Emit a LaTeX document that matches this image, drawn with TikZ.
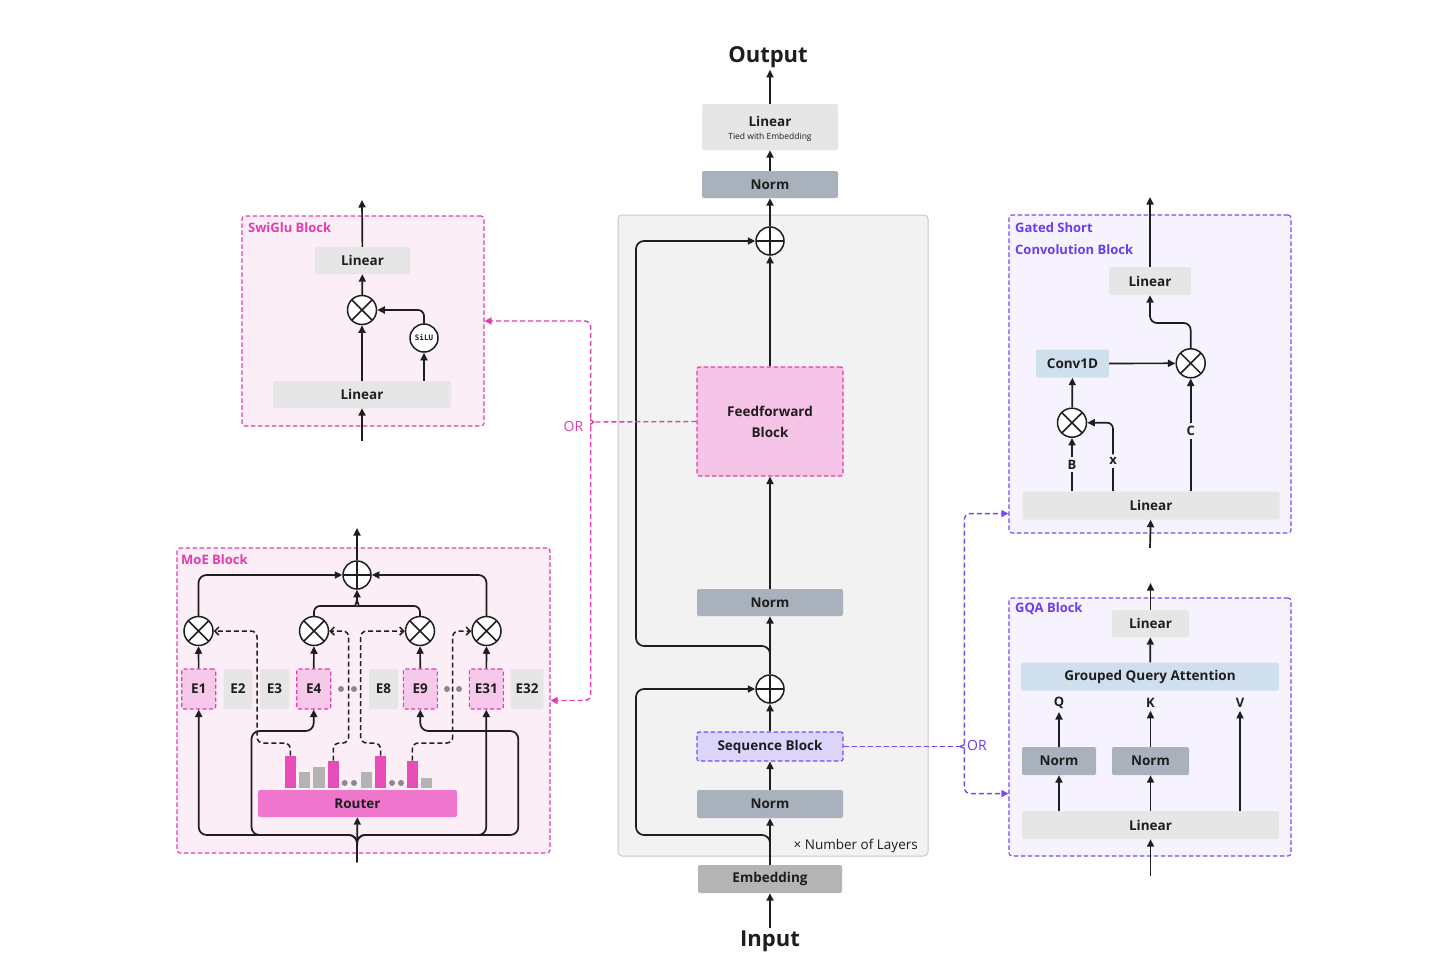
\documentclass[tikz,border=0pt]{standalone}
\usepackage{fontspec}
\setmainfont{Open Sans}
\newfontfamily\silufont{DejaVu Sans Mono}
\usetikzlibrary{arrows.meta,calc}
\definecolor{txt}{HTML}{1E1E1E}
\definecolor{magc}{HTML}{E33CAD}
\definecolor{pinkbg}{HTML}{FBEEF7}
\definecolor{ffc}{HTML}{F5C4E7}
\definecolor{expc}{HTML}{F6C8EA}
\definecolor{routc}{HTML}{EE77CD}
\definecolor{barp}{HTML}{E64DB6}
\definecolor{barg}{HTML}{B3B3B3}
\definecolor{purc}{HTML}{7A48F2}
\definecolor{purtxt}{HTML}{6A3BEF}
\definecolor{lavbg}{HTML}{F6F3FE}
\definecolor{seqc}{HTML}{DDD4FC}
\definecolor{lgray}{HTML}{E6E6E6}
\definecolor{normc}{HTML}{A9B2BC}
\definecolor{embc}{HTML}{B4B4B4}
\definecolor{contf}{HTML}{F2F2F2}
\definecolor{contd}{HTML}{C8C8C8}
\definecolor{lblue}{HTML}{CFDFED}
\definecolor{dotc}{HTML}{8A8A8A}
\begin{document}
\begin{tikzpicture}[x=1pt,y=-1pt,
  sz/.style 2 args={minimum width=#1pt, minimum height=#2pt},
  bx/.style={rectangle, rounded corners=2pt, inner sep=0pt, text=txt, font=\fontsize{13.5}{15}\selectfont\bfseries},
  lg/.style={bx, fill=lgray},
  ng/.style={bx, fill=normc},
  emb/.style={bx, fill=embc},
  lb/.style={bx, fill=lblue},
  grayexp/.style={bx, fill=lgray},
  pinkexp/.style={bx, fill=expc, draw=magc, line width=1.1pt, dash pattern=on 4pt off 2.5pt},
  ffbox/.style={bx, fill=ffc, draw=magc, line width=1.1pt, dash pattern=on 4.5pt off 2.5pt},
  seqbox/.style={bx, fill=seqc, draw=purc, line width=1.1pt, dash pattern=on 4.5pt off 2.5pt},
  pinkblock/.style={rectangle, rounded corners=3pt, fill=pinkbg, draw=magc, line width=1.1pt, dash pattern=on 4.5pt off 2.5pt},
  lavblock/.style={rectangle, rounded corners=3pt, fill=lavbg, draw=purc, line width=1.1pt, dash pattern=on 4.5pt off 2.5pt},
  router/.style={bx, fill=routc},
  magl/.style={text=magc, font=\fontsize{13}{15}\selectfont\bfseries, inner sep=0pt},
  purl/.style={text=purtxt, font=\fontsize{13}{22}\selectfont\bfseries, inner sep=0pt},
  oplus/.style={circle, draw=txt, fill=white, line width=1.5pt, minimum size=28pt, inner sep=0pt,
    path picture={\draw[line width=1.5pt] (path picture bounding box.north) -- (path picture bounding box.south)
      (path picture bounding box.west) -- (path picture bounding box.east);}},
  otimes/.style={circle, draw=txt, fill=white, line width=1.5pt, minimum size=29pt, inner sep=0pt,
    path picture={\draw[line width=1.5pt] (path picture bounding box.north west) -- (path picture bounding box.south east)
      (path picture bounding box.south west) -- (path picture bounding box.north east);}},
  silu/.style={circle, draw=txt, fill=white, line width=1.5pt, minimum size=28pt, inner sep=0pt, text=txt, font=\silufont\fontsize{7.5}{9}\selectfont\bfseries},
  qlbl/.style={text=txt, font=\fontsize{13}{15}\selectfont\bfseries, inner sep=3pt},
  arr/.style={draw=txt, line width=1.7pt, -{Triangle[length=7.5pt,width=7pt]}},
  ln/.style={draw=txt, line width=1.7pt},
  darr/.style={draw=txt, line width=1.5pt, dash pattern=on 5pt off 3pt, -{Straight Barb[length=4pt,width=8pt]}},
  magdash/.style={draw=magc, line width=1.4pt, dash pattern=on 5pt off 3pt},
  purdash/.style={draw=purc, line width=1.4pt, dash pattern=on 5pt off 3pt},
  marr/.style={-{Triangle[length=7pt,width=7pt]}},
]
\useasboundingbox (0,0) rectangle (1456,974);
\fill[white] (0,0) rectangle (1456,974);

% ---------------- centre column ----------------
\node[rectangle, rounded corners=4pt, fill=contf, draw=contd, line width=1pt, sz={310}{641}] (layers) at (773,535.5) {};
\node[text=txt, font=\fontsize{22}{24}\selectfont\bfseries, inner sep=2pt] (out) at (768,57) {Output};
\node[lg, sz={136}{46}] (linout) at (770,127) {};
\node[text=txt, font=\fontsize{13.5}{15}\selectfont\bfseries, inner sep=0pt] (linoutt) at (770,121) {Linear};
\node[text=txt, font=\fontsize{8.5}{9}\selectfont, inner sep=0pt] (linouts) at (770,137.5) {Tied with Embedding};
\node[ng, sz={136}{27}] (normout) at (770,184.5) {Norm};
\node[oplus] (p1) at (770,241) {};
\node[ffbox, sz={146}{109}, align=center, font=\fontsize{13.5}{21}\selectfont\bfseries] (ff) at (770,421.5) {Feedforward\\Block};
\node[ng, sz={146}{27}] (norm2) at (770,602.5) {Norm};
\node[oplus] (p2) at (770,689) {};
\node[seqbox, sz={146}{29}] (seq) at (770,746.5) {Sequence Block};
\node[ng, sz={146}{28}] (norm3) at (770,804) {Norm};
\node[emb, sz={144}{28}] (emb) at (770,879) {Embedding};
\node[text=txt, font=\fontsize{22}{24}\selectfont\bfseries, inner sep=2pt] (inp) at (770,941) {Input};
\node[text=txt, font=\fontsize{13.5}{15}\selectfont, anchor=east, inner sep=0pt] (nl) at (918,846) {× Number of Layers};

\draw[arr] (linout.north) -- (linout.north |- out.south);
\draw[arr] (normout) -- (linout);
\draw[arr] (p1) -- (normout);
\draw[arr] (ff) -- (p1);
\draw[arr] (norm2) -- (ff);
\draw[arr] (p2) -- (norm2);
\draw[arr] (seq) -- (p2);
\draw[arr] (norm3) -- (seq);
\draw[arr] (emb) -- (norm3);
\draw[arr] (inp) -- (emb);
\draw[arr, rounded corners=8pt] ($(p2.north)+(0,-14)$) |- (636,646) |- (p1.west);
\draw[arr, rounded corners=8pt] ($(emb.north)+(0,-18)$) |- (636,835) |- (p2.west);

% ---------------- SwiGlu block ----------------
\node[pinkblock, sz={242}{210}] (swi) at (363,321) {};
\node[magl, anchor=west] (swil) at (248,228) {SwiGlu Block};
\node[lg, sz={95}{27}] (swl2) at (362.5,260.5) {Linear};
\node[otimes] (sx) at (362,310) {};
\node[silu] (silu) at (424,338) {SiLU};
\node[lg, sz={178}{27}] (swl1) at (362,394.5) {Linear};
\coordinate (swin) at (362,441);
\coordinate (swout) at (362,200);
\draw[arr] (swl2) -- (swout);
\draw[arr] (sx) -- (swl2);
\draw[arr] (swl1) -- (sx);
\draw[arr] (swl1.north -| silu) -- (silu);
\draw[arr, rounded corners=6pt] (silu.north) |- (sx.east);
\draw[arr] (swin) -- (swl1);

% ---------------- MoE block ----------------
\node[pinkblock, sz={373}{305}] (moe) at (363.5,700.5) {};
\node[magl, anchor=west] (moel) at (181,560) {MoE Block};
\node[oplus] (mp) at (357,575) {};
\coordinate (moeout) at (357,528);
\node[otimes] (g1) at (198.5,631) {};
\node[otimes] (g4) at (314,631) {};
\node[otimes] (g9) at (420,631) {};
\node[otimes] (g31) at (486.5,631) {};
\node[pinkexp, sz={34}{40}] (e1) at (198.7,689) {E1};
\node[grayexp, sz={29}{40}] (e2) at (238,689) {E2};
\node[grayexp, sz={29}{40}] (e3) at (274.5,689) {E3};
\node[pinkexp, sz={34}{40}] (e4) at (313.7,689) {E4};
\node[grayexp, sz={29}{40}] (e8) at (383.5,689) {E8};
\node[pinkexp, sz={34}{40}] (e9) at (420.3,689) {E9};
\node[pinkexp, sz={34}{40}] (e31) at (486.3,689) {E31};
\node[grayexp, sz={33}{40}] (e32) at (527,689) {E32};
\foreach \dx in {341,354,447,459} \fill[dotc] (\dx,689) circle (3pt);
\node[router, sz={199}{27}] (router) at (357.5,803.5) {Router};
\node[fill=barp, inner sep=0pt, sz={11.3}{32}, anchor=south] (b1) at (290.3,788) {};
\node[fill=barg, inner sep=0pt, sz={11.3}{16}, anchor=south] (b2) at (304.3,788) {};
\node[fill=barg, inner sep=0pt, sz={11.3}{21}, anchor=south] (b3) at (319,788) {};
\node[fill=barp, inner sep=0pt, sz={11.3}{27}, anchor=south] (b4) at (333.3,788) {};
\node[fill=barg, inner sep=0pt, sz={11.3}{16}, anchor=south] (b5) at (366.5,788) {};
\node[fill=barp, inner sep=0pt, sz={11.3}{32}, anchor=south] (b6) at (380.5,788) {};
\node[fill=barp, inner sep=0pt, sz={11.3}{27}, anchor=south] (b7) at (412.3,788) {};
\node[fill=barg, inner sep=0pt, sz={11.3}{10}, anchor=south] (b8) at (426.7,788) {};
\foreach \dx in {344.7,354,392,401} \fill[dotc] (\dx,783) circle (3pt);

\draw[arr] (e1) -- (g1);
\draw[arr] (e4) -- (g4);
\draw[arr] (e9) -- (g9);
\draw[arr] (e31) -- (g31);
\draw[arr, rounded corners=8pt] (g1.north) |- (mp.west);
\draw[arr, rounded corners=8pt] (g31.north) |- (mp.east);
\draw[ln, rounded corners=6pt] (g4.north) |- (350,606) to[out=0,in=-90] (357,599);
\draw[ln, rounded corners=6pt] (g9.north) |- (364,606) to[out=180,in=-90] (357,599);
\draw[arr] (357,600) -- (mp.south);
\draw[arr] (mp) -- (moeout);

\draw[darr, rounded corners=6pt] (b1.north) |- (257,743) |- (g1.east);
\draw[darr, rounded corners=6pt] (b4.north) |- (348.7,743) |- (g4.east);
\draw[darr, rounded corners=6pt] (b6.north) |- (360.7,743) |- (g9.west);
\draw[darr, rounded corners=6pt] (b7.north) |- (452.7,743) |- (g31.west);

\coordinate (moein) at (357,862);
\coordinate (mbot) at (357,835);
\draw[arr, rounded corners=8pt] (moein) |- (e1.south |- mbot) -- (e1.south);
\draw[arr, rounded corners=8pt] (moein) |- (e31.south |- mbot) -- (e31.south);
\draw[arr, rounded corners=8pt] (moein) |- (251.5,835) -- (251.5,731) -| (e4.south);
\draw[arr, rounded corners=8pt] (moein) |- (518.3,835) -- (518.3,731) -| (e9.south);
\draw[arr] (moein) -- (router);

% ---------------- left OR ----------------
\draw[magdash] (ff.west) -- (594,422);
\draw[magdash, marr, rounded corners=6pt] (594,422) to[out=180,in=-90] (590.7,415) |- (swi.east);
\draw[magdash, marr, rounded corners=6pt] (594,422) to[out=180,in=90] (590.7,429) |- (moe.east);
\node[text=magc, font=\fontsize{14}{15}\selectfont, inner sep=0pt] (orl) at (573.5,426) {OR};

% ---------------- Gated short conv block ----------------
\node[lavblock, sz={282}{318}] (gated) at (1150,374) {};
\node[purl, anchor=north west, align=left] (gatedl) at (1015,222) {Gated Short\\Convolution Block};
\node[lg, sz={82}{28}] (gl2) at (1150,281) {Linear};
\coordinate (gout) at (1150,197);
\node[otimes] (gx) at (1190.7,363.3) {};
\node[lb, sz={73}{28}] (conv) at (1072.5,363.5) {Conv1D};
\node[otimes] (gxs) at (1072,422.7) {};
\node[lg, sz={257}{28}] (gl1) at (1151,505.5) {Linear};
\coordinate (gin) at (1150,548);
\node[qlbl] (lB) at (1072,464.5) {B};
\node[qlbl] (lx) at (1113,461) {x};
\node[qlbl] (lC) at (1190.7,431) {C};
\draw[arr] (gl2) -- (gout);
\draw[arr, rounded corners=7pt] (gx.north) |- (1150,323) -- (gl2.south);
\draw[arr] (conv) -- (gx);
\draw[arr] (gxs) -- (conv);
\draw[ln] (gl1.north -| lB) -- (lB);
\draw[arr] (lB) -- (gxs);
\draw[ln] (gl1.north -| lx) -- (lx);
\draw[arr, rounded corners=6pt] (lx.north) |- (gxs.east);
\draw[ln] (gl1.north -| lC) -- (lC);
\draw[arr] (lC) -- (gx);
\draw[arr] (gin) -- (gl1);

% ---------------- GQA block ----------------
\node[lavblock, sz={282}{258}] (gqa) at (1150,727) {};
\node[purl, anchor=west] (gqal) at (1015,609) {GQA Block};
\node[lg, sz={77}{27}] (ql2) at (1150.5,623.5) {Linear};
\coordinate (qout) at (1150.5,583);
\node[lb, sz={258}{28}] (gqat) at (1150,676.5) {Grouped Query Attention};
\node[qlbl] (lQ) at (1059,703) {Q};
\node[qlbl] (lK) at (1150.5,703) {K};
\node[qlbl] (lV) at (1240,703) {V};
\node[ng, sz={74}{28}] (qn1) at (1059,761) {Norm};
\node[ng, sz={77}{28}] (qn2) at (1150.5,761) {Norm};
\node[lg, sz={257}{28}] (ql1) at (1150.5,825) {Linear};
\coordinate (qin) at (1150.5,876);
\draw[arr] (ql2) -- (qout);
\draw[arr] (gqat) -- (ql2);
\draw[arr] (qn1) -- (lQ);
\draw[arr] (qn2) -- (lK);
\draw[arr] (ql1.north -| lV) -- (lV);
\draw[arr] (ql1.north -| qn1) -- (qn1);
\draw[arr] (ql1.north -| qn2) -- (qn2);
\draw[arr] (qin) -- (ql1);

% ---------------- right OR ----------------
\draw[purdash] (seq.east) -- (960,746.5);
\draw[purdash, marr, rounded corners=6pt] (960,746.5) to[out=0,in=-90] (964.3,740) |- ($(gated.south west)+(0,-20)$);
\draw[purdash, marr, rounded corners=6pt] (960,746.5) to[out=0,in=90] (964.3,753) |- ($(gqa.south west)+(0,-63)$);
\node[text=purtxt, font=\fontsize{14}{15}\selectfont, inner sep=0pt] (orr) at (977,745) {OR};
\end{tikzpicture}
\end{document}
